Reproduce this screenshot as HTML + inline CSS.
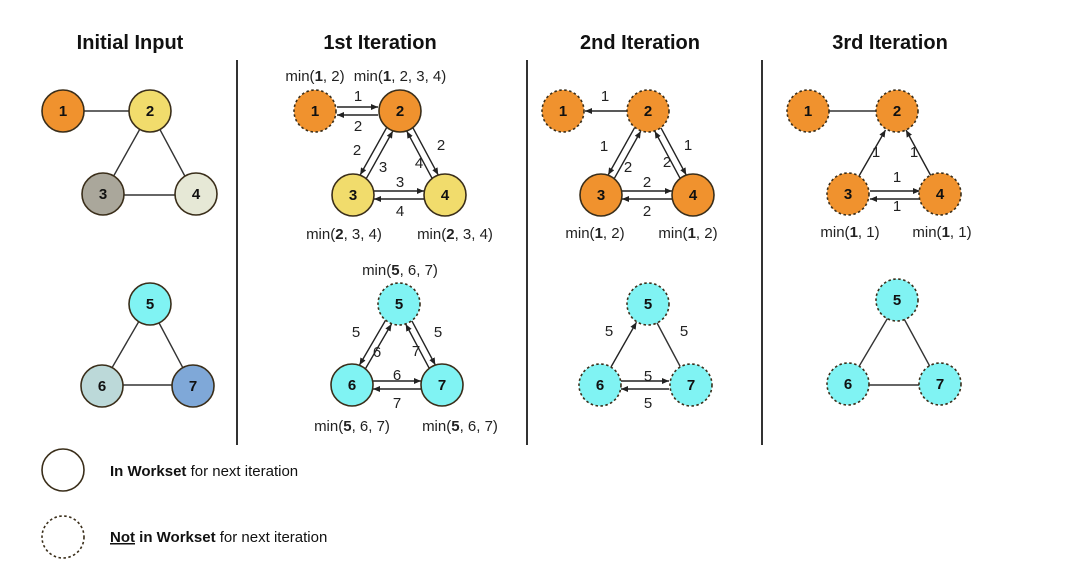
<!DOCTYPE html>
<html><head><meta charset="utf-8"><style>
html,body{margin:0;padding:0;background:#fff;}
svg{display:block;font-family:"Liberation Sans",Arial,sans-serif;}
.t{font-size:20px;font-weight:bold;text-anchor:middle;fill:#111;}
.n{font-size:15px;font-weight:bold;text-anchor:middle;fill:#111;}
.l{font-size:15px;text-anchor:middle;fill:#222;}
.e{stroke:#333;stroke-width:1.4;fill:none;}
.a{stroke:#222;stroke-width:1.4;fill:none;marker-end:url(#ah);}
circle{stroke:#3a2e1a;stroke-width:1.6;}
.d{stroke-dasharray:2.5 2.5;}
</style></head><body>
<svg width="1080" height="572" viewBox="0 0 1080 572">
<defs><marker id="ah" markerWidth="8" markerHeight="8" refX="7" refY="4" orient="auto" markerUnits="userSpaceOnUse"><path d="M0,1 L7,4 L0,7 z" fill="#222"/></marker></defs>

<text class="t" x="130" y="49">Initial Input</text>
<text class="t" x="380" y="49">1st Iteration</text>
<text class="t" x="640" y="49">2nd Iteration</text>
<text class="t" x="890" y="49">3rd Iteration</text>

<line x1="237" y1="60" x2="237" y2="445" stroke="#333" stroke-width="2"/>
<line x1="527" y1="60" x2="527" y2="445" stroke="#333" stroke-width="2"/>
<line x1="762" y1="60" x2="762" y2="445" stroke="#333" stroke-width="2"/>

<!-- Column 1 -->
<g transform="translate(-250,0)">
<line class="e" x1="315" y1="111" x2="400" y2="111"/>
<line class="e" x1="400" y1="111" x2="353" y2="195"/>
<line class="e" x1="400" y1="111" x2="445" y2="195"/>
<line class="e" x1="353" y1="195" x2="445" y2="195"/>
<line class="e" x1="399" y1="304" x2="352" y2="385"/>
<line class="e" x1="399" y1="304" x2="442" y2="385"/>
<line class="e" x1="352" y1="385" x2="442" y2="385"/>
<circle cx="313" cy="111" r="21" fill="#f0922e"/>
<circle cx="400" cy="111" r="21" fill="#f1dc6c"/>
<circle cx="353" cy="194" r="21" fill="#aaa79b"/>
<circle cx="446" cy="194" r="21" fill="#e6e8d6"/>
<circle cx="400" cy="304" r="21" fill="#80f3f3"/>
<circle cx="352" cy="386" r="21" fill="#bcd9d9"/>
<circle cx="443" cy="386" r="21" fill="#7fa8d8"/>
<text class="n" x="313" y="116">1</text><text class="n" x="400" y="116">2</text>
<text class="n" x="353" y="199">3</text><text class="n" x="446" y="199">4</text>
<text class="n" x="400" y="309">5</text><text class="n" x="352" y="391">6</text><text class="n" x="443" y="391">7</text>
</g>

<!-- Column 2 -->
<g>
<line class="a" x1="337" y1="107" x2="378" y2="107"/>
<line class="a" x1="378" y1="115" x2="337" y2="115"/>
<line class="a" x1="386.6" y1="127.7" x2="360.2" y2="174.9"/>
<line class="a" x1="366.4" y1="178.3" x2="392.8" y2="131.1"/>
<line class="a" x1="413" y1="127.9" x2="438.2" y2="174.9"/>
<line class="a" x1="432" y1="178.2" x2="406.8" y2="131.2"/>
<line class="a" x1="374" y1="191" x2="424" y2="191"/>
<line class="a" x1="424" y1="199" x2="374" y2="199"/>
<line class="a" x1="385.5" y1="320.4" x2="359.5" y2="365"/>
<line class="a" x1="365.5" y1="368.6" x2="391.5" y2="324"/>
<line class="a" x1="411.9" y1="320.9" x2="435.3" y2="364.9"/>
<line class="a" x1="429.1" y1="368.1" x2="405.7" y2="324.1"/>
<line class="a" x1="373" y1="381" x2="421" y2="381"/>
<line class="a" x1="421" y1="389" x2="373" y2="389"/>
<circle class="d" cx="315" cy="111" r="21" fill="#f0922e"/>
<circle cx="400" cy="111" r="21" fill="#f0922e"/>
<circle cx="353" cy="195" r="21" fill="#f1dc6c"/>
<circle cx="445" cy="195" r="21" fill="#f1dc6c"/>
<circle class="d" cx="399" cy="304" r="21" fill="#80f3f3"/>
<circle cx="352" cy="385" r="21" fill="#80f3f3"/>
<circle cx="442" cy="385" r="21" fill="#80f3f3"/>
<text class="n" x="315" y="116">1</text><text class="n" x="400" y="116">2</text>
<text class="n" x="353" y="200">3</text><text class="n" x="445" y="200">4</text>
<text class="n" x="399" y="309">5</text><text class="n" x="352" y="390">6</text><text class="n" x="442" y="390">7</text>
<text class="l" x="358" y="101">1</text><text class="l" x="358" y="131">2</text>
<text class="l" x="357" y="155">2</text><text class="l" x="383" y="172">3</text>
<text class="l" x="441" y="150">2</text><text class="l" x="419" y="168">4</text>
<text class="l" x="400" y="187">3</text><text class="l" x="400" y="216">4</text>
<text class="l" x="315" y="81">min(<tspan font-weight="bold">1</tspan>, 2)</text>
<text class="l" x="400" y="81">min(<tspan font-weight="bold">1</tspan>, 2, 3, 4)</text>
<text class="l" x="344" y="239">min(<tspan font-weight="bold">2</tspan>, 3, 4)</text>
<text class="l" x="455" y="239">min(<tspan font-weight="bold">2</tspan>, 3, 4)</text>
<text class="l" x="400" y="275">min(<tspan font-weight="bold">5</tspan>, 6, 7)</text>
<text class="l" x="356" y="337">5</text><text class="l" x="377" y="357">6</text>
<text class="l" x="416" y="356">7</text><text class="l" x="438" y="337">5</text>
<text class="l" x="397" y="380">6</text><text class="l" x="397" y="408">7</text>
<text class="l" x="352" y="431">min(<tspan font-weight="bold">5</tspan>, 6, 7)</text>
<text class="l" x="460" y="431">min(<tspan font-weight="bold">5</tspan>, 6, 7)</text>
</g>

<!-- Column 3 -->
<g transform="translate(248,0)">
<line class="a" x1="379" y1="111" x2="337" y2="111"/>
<line class="a" x1="386.6" y1="127.7" x2="360.2" y2="174.9"/>
<line class="a" x1="366.4" y1="178.3" x2="392.8" y2="131.1"/>
<line class="a" x1="413" y1="127.9" x2="438.2" y2="174.9"/>
<line class="a" x1="432" y1="178.2" x2="406.8" y2="131.2"/>
<line class="a" x1="374" y1="191" x2="424" y2="191"/>
<line class="a" x1="424" y1="199" x2="374" y2="199"/>
<line class="a" x1="363" y1="367" x2="388.5" y2="322.2"/>
<line class="e" x1="408.8" y1="322.5" x2="432.2" y2="366.5"/>
<line class="a" x1="373" y1="381" x2="421" y2="381"/>
<line class="a" x1="421" y1="389" x2="373" y2="389"/>
<circle class="d" cx="315" cy="111" r="21" fill="#f0922e"/>
<circle class="d" cx="400" cy="111" r="21" fill="#f0922e"/>
<circle cx="353" cy="195" r="21" fill="#f0922e"/>
<circle cx="445" cy="195" r="21" fill="#f0922e"/>
<circle class="d" cx="400" cy="304" r="21" fill="#80f3f3"/>
<circle class="d" cx="352" cy="385" r="21" fill="#80f3f3"/>
<circle class="d" cx="443" cy="385" r="21" fill="#80f3f3"/>
<text class="n" x="315" y="116">1</text><text class="n" x="400" y="116">2</text>
<text class="n" x="353" y="200">3</text><text class="n" x="445" y="200">4</text>
<text class="n" x="400" y="309">5</text><text class="n" x="352" y="390">6</text><text class="n" x="443" y="390">7</text>
<text class="l" x="357" y="101">1</text>
<text class="l" x="356" y="151">1</text><text class="l" x="380" y="172">2</text>
<text class="l" x="440" y="150">1</text><text class="l" x="419" y="167">2</text>
<text class="l" x="399" y="187">2</text><text class="l" x="399" y="216">2</text>
<text class="l" x="347" y="238">min(<tspan font-weight="bold">1</tspan>, 2)</text>
<text class="l" x="440" y="238">min(<tspan font-weight="bold">1</tspan>, 2)</text>
<text class="l" x="361" y="336">5</text><text class="l" x="436" y="336">5</text>
<text class="l" x="400" y="381">5</text><text class="l" x="400" y="408">5</text>
</g>

<!-- Column 4 -->
<g transform="translate(496,0)">
<line class="e" x1="315" y1="111" x2="400" y2="111"/>
<line class="a" x1="363" y1="176" x2="389.5" y2="130"/>
<line class="a" x1="435" y1="176" x2="410" y2="130"/>
<line class="a" x1="374" y1="191" x2="424" y2="191"/>
<line class="a" x1="424" y1="199" x2="374" y2="199"/>
<line class="e" x1="400" y1="304" x2="352" y2="385"/>
<line class="e" x1="400" y1="304" x2="444" y2="385"/>
<line class="e" x1="352" y1="385" x2="444" y2="385"/>
<circle class="d" cx="312" cy="111" r="21" fill="#f0922e"/>
<circle class="d" cx="401" cy="111" r="21" fill="#f0922e"/>
<circle class="d" cx="352" cy="194" r="21" fill="#f0922e"/>
<circle class="d" cx="444" cy="194" r="21" fill="#f0922e"/>
<circle class="d" cx="401" cy="300" r="21" fill="#80f3f3"/>
<circle class="d" cx="352" cy="384" r="21" fill="#80f3f3"/>
<circle class="d" cx="444" cy="384" r="21" fill="#80f3f3"/>
<text class="n" x="312" y="116">1</text><text class="n" x="401" y="116">2</text>
<text class="n" x="352" y="199">3</text><text class="n" x="444" y="199">4</text>
<text class="n" x="401" y="305">5</text><text class="n" x="352" y="389">6</text><text class="n" x="444" y="389">7</text>
<text class="l" x="380" y="157">1</text><text class="l" x="418" y="157">1</text>
<text class="l" x="401" y="182">1</text><text class="l" x="401" y="211">1</text>
<text class="l" x="354" y="237">min(<tspan font-weight="bold">1</tspan>, 1)</text>
<text class="l" x="446" y="237">min(<tspan font-weight="bold">1</tspan>, 1)</text>
</g>

<!-- Legend -->
<circle cx="63" cy="470" r="21" fill="#fff" stroke="#222"/>
<circle class="d" cx="63" cy="537" r="21" fill="#fff" stroke="#222"/>
<text x="110" y="476" font-size="15" fill="#111"><tspan font-weight="bold">In Workset</tspan> for next iteration</text>
<text x="110" y="542" font-size="15" fill="#111"><tspan font-weight="bold" text-decoration="underline">Not</tspan><tspan font-weight="bold"> in Workset</tspan> for next iteration</text>
</svg>
</body></html>
